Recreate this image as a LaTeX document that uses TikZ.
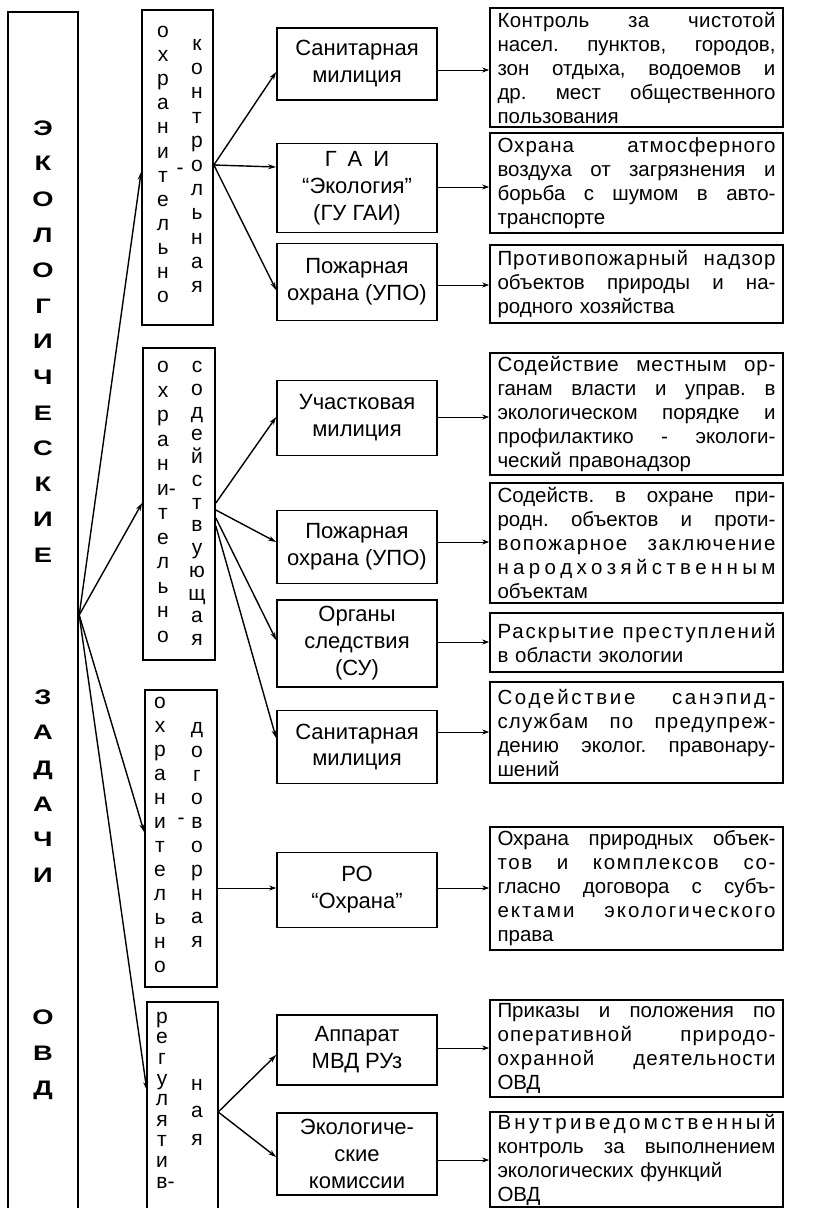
\documentclass[tikz,border=0pt]{standalone}
\usepackage{fontspec}
\setmainfont{Liberation Sans}
\newfontfamily\widefont[FakeStretch=1.3]{Liberation Sans}
\usetikzlibrary{arrows.meta}
\newlength\rw \setlength\rw{278pt}
\newcommand\jl[1]{{\spaceskip=0pt\xspaceskip=0pt\frenchspacing\makebox[\rw][s]{#1}}}
\newcommand\ljl[2]{{\addfontfeature{LetterSpace=#1}\jl{#2}}}
\def\lsfirst#1{#1\lsloop}
\def\lsloop#1{\ifx#1\relax\else\hfil#1\expandafter\lsloop\fi}
\newcommand\lsw[1]{\makebox[\rw][s]{\lsfirst#1\relax}}
\begin{document}
\begin{tikzpicture}[x=1pt,y=-1pt,
  box/.style={draw,line width=1.7pt},
  mid/.style={box,minimum width=160pt,align=center,inner sep=1pt,font=\fontsize{22}{27}\selectfont},
  rbox/.style={box,text width=278pt,inner xsep=7.5pt,inner ysep=1pt,align=left,font=\fontsize{20.5}{24}\selectfont},
  vcol/.style={inner sep=0pt,align=center},
  big/.style={vcol,font=\widefont\bfseries\fontsize{21}{35.6}\selectfont},
  arr/.style={line width=1.4pt,-{Stealth[length=8pt,width=5pt]}},
  harr/.style={line width=0.8pt,-{Stealth[length=7pt,width=5pt]}},
]
\useasboundingbox (0,0) rectangle (821,1208);

% left box
\node[minimum width=70pt,minimum height=1198pt,inner sep=0pt] (root) at (43,611) {};
\draw[line width=1.7pt] (root.south west) -- (root.north west) -- (root.north east) -- (root.south east);
\node[big] (t1) at (43,341.5) {Э\\К\\О\\Л\\О\\Г\\И\\Ч\\Е\\С\\К\\И\\Е};
\node[big] (t2) at (43,786) {З\\А\\Д\\А\\Ч\\И};
\node[big] (t3) at (43,1055) {О\\В\\Д};

% vertical-text boxes
\node[box,minimum width=71pt,minimum height=315pt,inner sep=0pt] (b1) at (177.5,167.5) {};
\node[vcol,font=\fontsize{21}{24.1}\selectfont] (b1l) at (163,164.5) {о\\х\\р\\а\\н\\и\\т\\е\\л\\ь\\н\\о};
\node[vcol,font=\fontsize{21}{24.2}\selectfont] (b1r) at (197,166) {к\\о\\н\\т\\р\\о\\л\\ь\\н\\а\\я};
\node[inner sep=0pt,font=\fontsize{21}{24}\selectfont] (b1h) at (180,171) {-};

\node[box,minimum width=72pt,minimum height=312pt,inner sep=0pt] (b2) at (179,504) {};
\node[vcol,font=\fontsize{21}{24.5}\selectfont] (b2l) at (163,502) {о\\х\\р\\а\\н\\и\rlap{-}\\т\\е\\л\\ь\\н\\о};
\node[vcol,font=\fontsize{21}{22.75}\selectfont] (b2r) at (197,503.5) {с\\о\\д\\е\\й\\с\\т\\в\\у\\ю\\щ\\а\\я};

\node[box,minimum width=72pt,minimum height=297pt,inner sep=0pt] (b3) at (181,838.5) {};
\node[vcol,font=\fontsize{21}{24}\selectfont] (b3l) at (160,835) {о\\х\\р\\а\\н\\и\\т\\е\\л\\ь\\н\\о};
\node[vcol,font=\fontsize{21}{23.8}\selectfont] (b3r) at (197,835) {д\\о\\г\\о\\в\\о\\р\\н\\а\\я};
\node[inner sep=0pt,font=\fontsize{21}{24}\selectfont] (b3h) at (181,821) {-};

\node[minimum width=71pt,minimum height=207pt,inner sep=0pt] (b4) at (182.5,1105.5) {};
\draw[line width=1.7pt] (b4.south west) -- (b4.north west) -- (b4.north east) -- (b4.south east);
\node[vcol,font=\fontsize{21}{20.6}\selectfont] (b4l) at (162,1100) {р\\е\\г\\у\\л\\я\\т\\и\\в\rlap{-}};
\node[vcol,font=\fontsize{21}{27.5}\selectfont] (b4r) at (197,1112) {н\\а\\я};

% middle column
\node[mid,minimum height=72pt] (m1) at (357,64) {Санитарная\\милиция};
\node[mid,minimum height=89pt] (m2) at (357,188) {Г\enspace А\enspace И\\“Экология”\\(ГУ ГАИ)};
\node[mid,minimum height=77pt] (m3) at (357,282) {Пожарная\\охрана (УПО)};
\node[mid,minimum height=75pt] (m4) at (357,418) {Участковая\\милиция};
\node[mid,minimum height=73pt] (m5) at (357,547) {Пожарная\\охрана (УПО)};
\node[mid,minimum height=87pt] (m6) at (357,643.5) {Органы\\следствия\\(СУ)};
\node[mid,minimum height=73pt] (m7) at (357,747) {Санитарная\\милиция};
\node[mid,minimum height=75pt] (m8) at (357,890) {РО\\“Охрана”};
\node[mid,minimum height=70pt] (m9) at (357,1050) {Аппарат\\МВД РУз};
\node[mid,minimum height=82pt] (m10) at (357,1154) {Экологиче-\\ские\\комиссии};

% right column
\node[rbox,minimum height=119pt] (r1) at (636.5,67.5) {\ljl{2}{Контроль за чистотой}\\\jl{насел. пунктов, городов,}\\\jl{зон отдыха, водоемов и}\\\jl{др. мест общественного}\\пользования};
\node[rbox,minimum height=100pt] (r2) at (636.5,183) {\ljl{5}{Охрана атмосферного}\\\jl{воздуха от загрязнения и}\\\jl{борьба с шумом в авто-}\\транспорте};
\node[rbox,minimum height=78pt] (r3) at (636.5,284) {\ljl{5}{Противопожарный надзор}\\\jl{объектов природы и на-}\\родного хозяйства};
\node[rbox,minimum height=122pt] (r4) at (636.5,414) {\ljl{4}{Содействие местным ор-}\\\jl{ганам власти и управ. в}\\\jl{экологическом порядке и}\\\jl{профилактико - экологи-}\\ческий правонадзор};
\node[rbox,minimum height=120pt] (r5) at (636.5,543) {\jl{Содейств. в охране при-}\\\jl{родн. объектов и проти-}\\\ljl{8}{вопожарное заключение}\\\lsw{народхозяйственным}\\объектам};
\node[rbox,minimum height=59pt] (r6) at (636.5,642.5) {\ljl{9}{Раскрытие преступлений}\\в области экологии};
\node[rbox,minimum height=101pt] (r7) at (636.5,732.5) {\ljl{13}{Содействие санэпид-}\\\ljl{6}{службам по предупреж-}\\\jl{дению эколог. правонару-}\\шений};
\node[rbox,minimum height=123pt] (r8) at (636.5,888.5) {\jl{Охрана природных объек-}\\\ljl{8}{тов и комплексов со-}\\\jl{гласно договора с субъ-}\\\ljl{10}{ектами экологического}\\права};
\node[rbox,minimum height=97pt] (r9) at (636.5,1048.5) {\jl{Приказы и положения по}\\\ljl{6}{оперативной природо-}\\\ljl{5}{охранной деятельности}\\ОВД};
\node[rbox,minimum height=95pt] (r10) at (636.5,1159.5) {\lsw{Внутриведомственный}\\\jl{контроль за выполнением}\\экологических функций\\ОВД};

% connectors from the root
\coordinate (hub) at ([xshift=1pt]root.east |- 0,615);
\draw[arr] (hub) -- (b1.west |- 0,172);
\draw[arr] (hub) -- (b2.west |- 0,503);
\draw[arr] (hub) -- (b3.west |- 0,832);
\draw[arr] (hub) -- (b4.west |- 0,1090);

% box 1 fan
\coordinate (o1) at (b1.east |- 0,165);
\draw[arr] (o1) -- (m1.west |- 0,72);
\draw[arr] (o1) -- (m2.west |- 0,167);
\draw[arr] (o1) -- (m3.west |- 0,290);

% box 2 fan
\draw[arr] (b2.east |- 0,503) -- (m4.west |- 0,417);
\draw[arr] (b2.east |- 0,510) -- (m5.west |- 0,542);
\draw[arr] (b2.east |- 0,518) -- (m6.west |- 0,640);
\draw[arr] (b2.east |- 0,526) -- (m7.west |- 0,738);

% box 3
\draw[harr] (b3.east |- 0,888) -- (m8.west |- 0,888);

% box 4 fan
\coordinate (o4) at (b4.east |- 0,1112);
\draw[arr] (o4) -- (m9.west |- 0,1055);
\draw[arr] (o4) -- (m10.west |- 0,1157);

% middle to right
\draw[harr] (m1.east |- 0,70) -- (r1.west |- 0,70);
\draw[harr] (m2.east |- 0,187) -- (r2.west |- 0,187);
\draw[harr] (m3.east |- 0,285) -- (r3.west |- 0,285);
\draw[harr] (m4.east |- 0,417) -- (r4.west |- 0,417);
\draw[harr] (m5.east |- 0,542) -- (r5.west |- 0,542);
\draw[harr] (m6.east |- 0,642) -- (r6.west |- 0,642);
\draw[harr] (m7.east |- 0,732) -- (r7.west |- 0,732);
\draw[harr] (m8.east |- 0,888) -- (r8.west |- 0,888);
\draw[harr] (m9.east |- 0,1048) -- (r9.west |- 0,1048);
\draw[harr] (m10.east |- 0,1160) -- (r10.west |- 0,1160);
\end{tikzpicture}
\end{document}
